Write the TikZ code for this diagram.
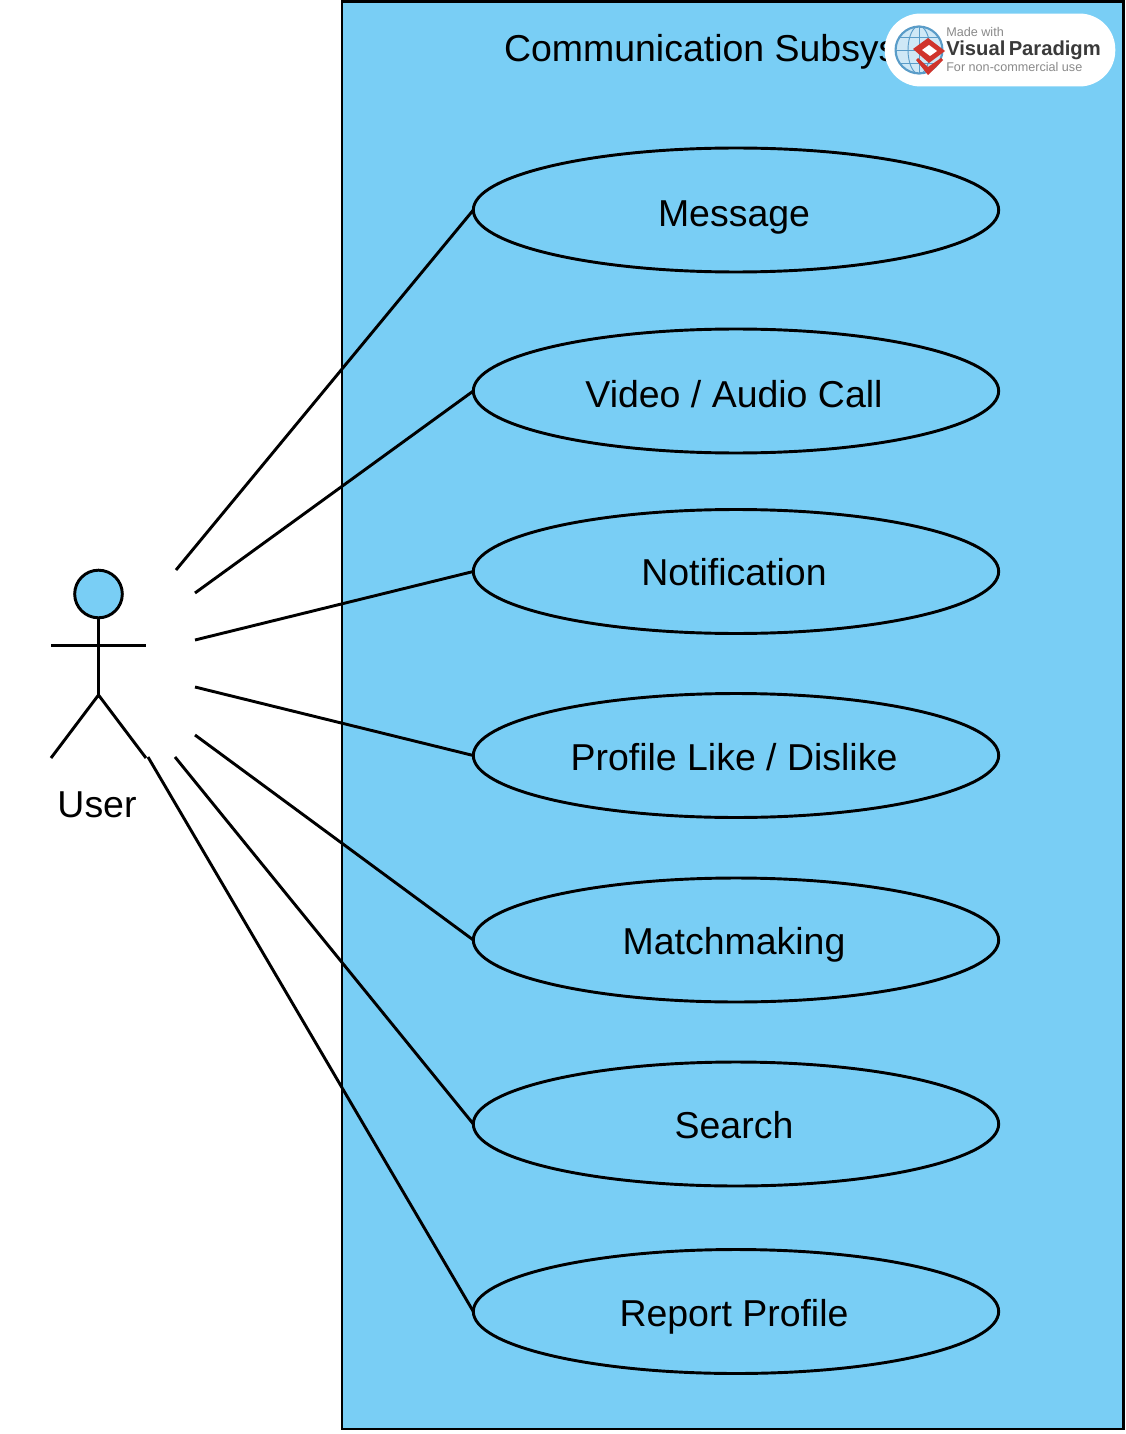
\documentclass[tikz,border=0pt]{standalone}
\usepackage{fontspec}
\setmainfont{Liberation Sans}
\usetikzlibrary{shapes.geometric, positioning, calc}
\definecolor{celeste}{HTML}{79CEF5}
\definecolor{marcagris}{HTML}{8A8A8A}
\definecolor{marcatinta}{HTML}{3A3A3A}
\definecolor{marcarojo}{HTML}{D0342C}
\definecolor{marcaazul}{HTML}{5A9CC8}
\definecolor{marcacielo}{HTML}{CFE8F6}
\tikzset{
  x=0.02646cm, y=-0.02646cm,
  caso/.style={ellipse, draw=black, fill=celeste, line width=2.2pt, outer sep=0pt, minimum width=13.9cm,
               minimum height=3.28cm, inner sep=0pt},
  linea/.style={line width=2.2pt, color=black},
  sistema/.style={rectangle, draw=black, fill=celeste, line width=2.2pt, outer sep=0pt, minimum width=20.68cm,
                  minimum height=37.77cm, anchor=north west},
  rotulo/.style={font=\fontsize{28.2}{32}\selectfont, inner sep=0pt, anchor=base},
  sello/.style={rectangle, rounded corners=0.95cm, fill=white, outer sep=0pt, minimum width=6.1cm,
                minimum height=1.93cm},
  selloch/.style={inner sep=0pt, anchor=base west, text=marcagris, font=\fontsize{9.5}{12}\selectfont},
  meridiano/.style={draw=marcaazul, line width=0.7pt}
}
\begin{document}
\begin{tikzpicture}
  \useasboundingbox (0,0) rectangle (1125,1434);
  \node (sis) [sistema] at (342,1.5) {};
  \node (titulo) [rotulo] at (732,62) {Communication Subsystem};
  % casos de uso
  \node (c1) [caso] at (736,210) {};
  \node (c2) [caso] at (736,391) {};
  \node (c3) [caso] at (736,571.5) {};
  \node (c4) [caso] at (736,755.5) {};
  \node (c5) [caso] at (736,940) {};
  \node (c6) [caso] at (736,1124) {};
  \node (c7) [caso] at (736,1311.5) {};
  \node (t1) [rotulo] at (734,227) {Message};
  \node (t2) [rotulo] at (734,407) {Video / Audio Call};
  \node (t3) [rotulo] at (734,585) {Notification};
  \node (t4) [rotulo] at (734,770) {Profile Like / Dislike};
  \node (t5) [rotulo] at (734,954) {Matchmaking};
  \node (t6) [rotulo] at (734,1138) {Search};
  \node (t7) [rotulo] at (734,1326) {Report Profile};
  % actor
  \node (cabeza) [circle, draw=black, fill=celeste, line width=2.2pt, outer sep=0pt, minimum size=1.26cm, inner sep=0pt] at (98.5,594) {};
  \coordinate (cadera) at (98.5,695);
  \coordinate (brazo1) at (51,645.5);
  \coordinate (brazo2) at (146,645.5);
  \coordinate (pie1) at (51,758);
  \coordinate (pie2) at (146,758);
  \draw [linea] (cabeza) -- (cadera);
  \draw [linea] (brazo1) -- (brazo2);
  \draw [linea] (pie1) -- (cadera) -- (pie2);
  \node (user) [rotulo] at (97,817) {User};
  % asociaciones
  \coordinate (u1) at (176,570);
  \coordinate (u2) at (195,593);
  \coordinate (u3) at (195,640);
  \coordinate (u4) at (195,687);
  \coordinate (u5) at (195,735);
  \coordinate (u6) at (175,757);
  \coordinate (u7) at (148,757);
  \draw [linea] (u1) -- (c1.west);
  \draw [linea] (u2) -- (c2.west);
  \draw [linea] (u3) -- (c3.west);
  \draw [linea] (u4) -- (c4.west);
  \draw [linea] (u5) -- (c5.west);
  \draw [linea] (u6) -- (c6.west);
  \draw [linea] (u7) -- (c7.west);
  % sello
  \node (sello) [sello] at (1000,50) {};
  \node (globo) [circle, draw=marcaazul, fill=marcacielo, line width=1.6pt, outer sep=0pt, minimum size=1.24cm, inner sep=0pt] at (919,50) {};
  \draw [meridiano] (919,26) -- (919,74) (895,50) -- (943,50) (899,37) -- (939,37) (899,63) -- (939,63);
  \draw [meridiano] (919,50) ellipse [x radius=11, y radius=24];
  \fill [marcarojo] (929,63) -- (913,49) -- (928,38) -- (945,51) -- cycle;
  \fill [marcarojo] (916,60) -- (918,58) -- (928,67) -- (941,58) -- (943,60) -- (928,75) -- cycle;
  \fill [white] (929,45) -- (937,51) -- (930,56) -- (922,50) -- cycle;
  \node (s1) [selloch] at (946,37) {Made with};
  \node (s2) [selloch, text=marcatinta, font=\fontsize{15.2}{18}\selectfont\bfseries] at (946,56) {Visual\,Paradigm};
  \node (s3) [selloch] at (946,72) {For non-commercial use};
\end{tikzpicture}
\end{document}
